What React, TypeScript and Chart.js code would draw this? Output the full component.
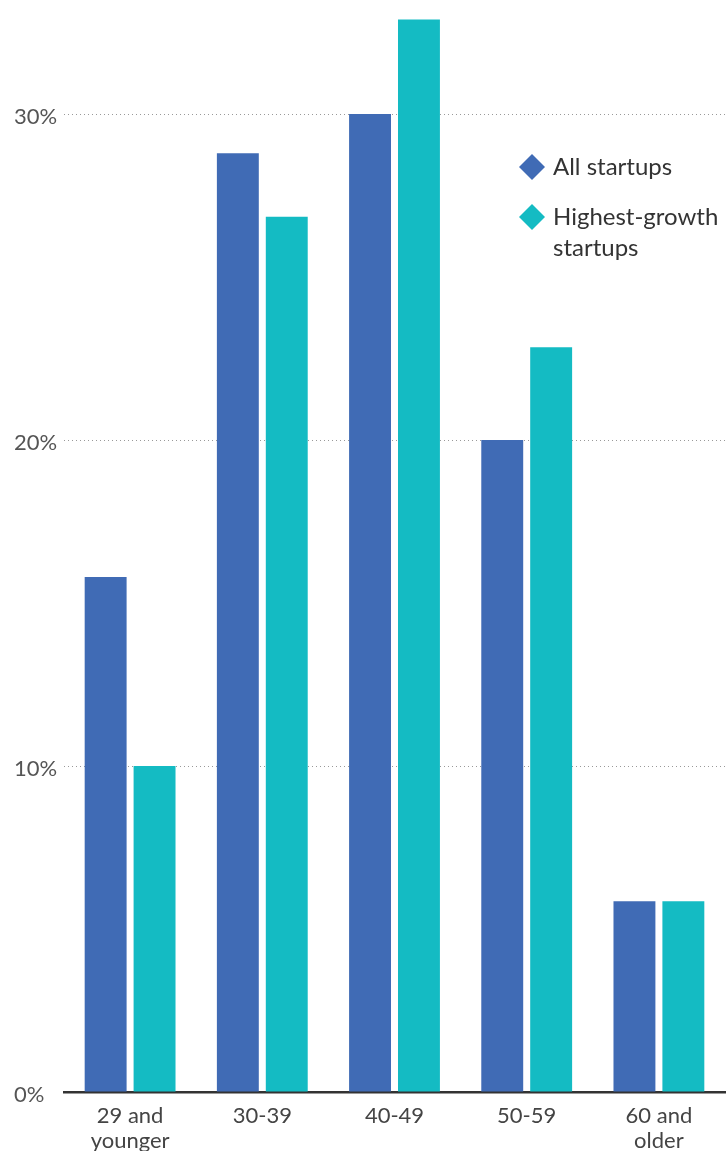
import React, { useEffect, useRef } from "react";
import { Chart, registerables } from "chart.js";

Chart.register(...registerables);

const categories: (string | string[])[] = [["29 and", "younger"], "30-39", "40-49", "50-59", ["60 and", "older"]];
const allStartups = [15.8, 28.8, 30, 20, 5.85];
const highestGrowth = [10, 26.85, 32.9, 22.85, 5.85];
const seriesNames = ["All startups", ["Highest-growth", "startups"]];
const yTicks = [0, 10, 20, 30];

const BLUE = "#406BB5";
const TEAL = "#14BBC3";
const FONT = "Lato, 'Noto Sans', sans-serif";

const legendPlugin = {
  id: "customLegend",
  afterDraw(chart: any) {
    const ctx = chart.ctx;
    ctx.save();
    const items = [
      { color: BLUE, lines: [seriesNames[0] as string], y: 167 },
      { color: TEAL, lines: seriesNames[1] as string[], y: 217 },
    ];
    for (const it of items) {
      const cx = 532;
      const r = 13;
      ctx.fillStyle = it.color;
      ctx.beginPath();
      ctx.moveTo(cx, it.y - r);
      ctx.lineTo(cx + r, it.y);
      ctx.lineTo(cx, it.y + r);
      ctx.lineTo(cx - r, it.y);
      ctx.closePath();
      ctx.fill();
      ctx.fillStyle = "#333";
      ctx.font = `24px ${FONT}`;
      ctx.textAlign = "left";
      ctx.textBaseline = "middle";
      it.lines.forEach((l, i) => ctx.fillText(l, 553, it.y + i * 31));
    }
    ctx.restore();
  },
};

export default function App() {
  const ref = useRef<HTMLCanvasElement>(null);
  useEffect(() => {
    if (!ref.current) return;
    const chart = new Chart(ref.current, {
      type: "bar",
      data: {
        labels: categories,
        datasets: [
          { label: "All startups", data: allStartups, backgroundColor: BLUE, barPercentage: 0.857, categoryPercentage: 0.74 },
          { label: "Highest-growth startups", data: highestGrowth, backgroundColor: TEAL, barPercentage: 0.857, categoryPercentage: 0.74 },
        ],
      },
      options: {
        animation: false,
        responsive: false,
        layout: { padding: { left: 14, right: 2, top: 0, bottom: 0 } },
        plugins: { legend: { display: false }, tooltip: { enabled: false } },
        scales: {
          x: {
            grid: { display: false },
            border: { display: true, color: "#333", width: 2.5 },
            ticks: { color: "#444", font: { family: FONT, size: 22, lineHeight: 1.12 }, padding: 4, maxRotation: 0, autoSkip: false },
            afterFit(scale: any) {
              scale.height = 59;
              scale.paddingLeft = 0;
              scale.paddingRight = 0;
            },
          },
          y: {
            min: 0,
            max: 33.5,
            afterBuildTicks(scale: any) {
              scale.ticks = yTicks.map((v) => ({ value: v }));
            },
            grid: { color: "#999", lineWidth: 1, drawTicks: false },
            border: { display: false, dash: [1, 3] },
            ticks: {
              color: "#555",
              font: { family: FONT, size: 22 },
              crossAlign: "far",
              labelOffset: 3,
              callback: (v: any) => `${v}%`,
            },
            afterFit(scale: any) {
              scale.width = 50;
              scale.paddingTop = 0;
              scale.paddingBottom = 0;
            },
          },
        },
      },
      plugins: [legendPlugin],
    });
    return () => chart.destroy();
  }, []);
  return (
    <div style={{ position: "absolute", left: 0, top: 0, width: 727, height: 1151, background: "#fff" }}>
      <canvas ref={ref} width={727} height={1151} />
    </div>
  );
}
